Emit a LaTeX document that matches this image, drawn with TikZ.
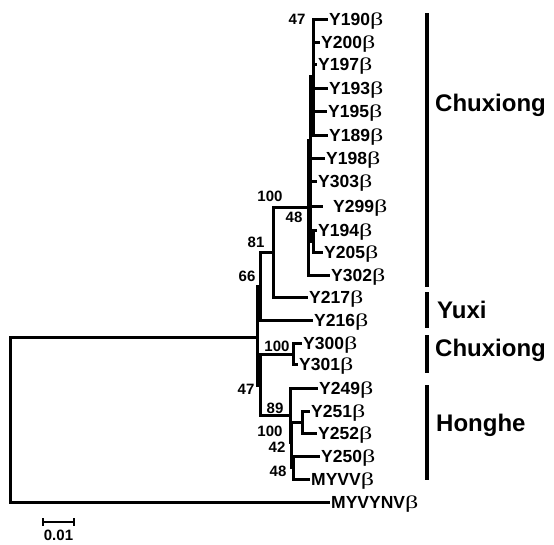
\documentclass[tikz,border=0pt]{standalone}
\usepackage{fontspec}
\usepackage{graphicx}
\setmainfont{Liberation Sans}
\newfontfamily\betafont{Liberation Serif}
\usetikzlibrary{arrows.meta}
\newcommand{\bt}{\scalebox{1.45}[1]{\betafont\mdseries\fontsize{18}{18}\selectfont β}}

\begin{document}
\begin{tikzpicture}[x=1pt, y=-1pt,
    branch/.style={line width=3pt},
    leaf/.style={anchor=west, inner sep=1pt, text height=12.5pt, text depth=0pt, font=\fontsize{17.5}{18}\selectfont\bfseries},
    boot/.style={inner sep=0pt, font=\fontsize{15}{16}\selectfont\bfseries},
    clade/.style={anchor=west, inner sep=0pt, font=\fontsize{24}{26}\selectfont\bfseries},
    cladebar/.style={line width=3.5pt}]
    \useasboundingbox (0,0) rectangle (554,544);

    % leaves
    \node[leaf] (y190) at (328,19) {Y190\bt};
    \node[leaf] (y200) at (320,42) {Y200\bt};
    \node[leaf] (y197) at (317,64) {Y197\bt};
    \node[leaf] (y193) at (328,88) {Y193\bt};
    \node[leaf] (y195) at (327,111) {Y195\bt};
    \node[leaf] (y189) at (328,135) {Y189\bt};
    \node[leaf] (y198) at (325,158) {Y198\bt};
    \node[leaf] (y303) at (317,181) {Y303\bt};
    \node[leaf, inner xsep=10pt] (y299) at (323,206) {Y299\bt};
    \node[leaf] (y194) at (317,230) {Y194\bt};
    \node[leaf] (y205) at (323,252) {Y205\bt};
    \node[leaf] (y302) at (330,275) {Y302\bt};
    \node[leaf] (y217) at (308,297) {Y217\bt};
    \node[leaf] (y216) at (313,320) {Y216\bt};
    \node[leaf] (y300) at (302,343) {Y300\bt};
    \node[leaf] (y301) at (298,364) {Y301\bt};
    \node[leaf] (y249) at (318,388) {Y249\bt};
    \node[leaf] (y251) at (310,411) {Y251\bt};
    \node[leaf] (y252) at (317,433) {Y252\bt};
    \node[leaf] (y250) at (320,456) {Y250\bt};
    \node[leaf] (myvv) at (310,479) {MYVV\bt};
    \node[leaf] (myvynv) at (330,502) {MYVYNV\bt};

    % internal nodes
    \coordinate (cA) at (313,76);
    \coordinate (cD) at (313,241);
    \coordinate (c48) at (310,222);
    \coordinate (cB) at (310,140);
    \coordinate (c100) at (308,207);
    \coordinate (c81) at (273,252);
    \coordinate (c66) at (260,286);
    \coordinate (cY) at (293,354);
    \coordinate (c100b) at (302,422);
    \coordinate (c48b) at (293,467.5);
    \coordinate (c42) at (291.5,442);
    \coordinate (c89) at (290,415);
    \coordinate (c47) at (260,385);
    \coordinate (cIn) at (257,337);
    \coordinate (cRoot) at (10,420);

    \draw[branch] (cA) |- (y190.west) (cA) |- (y200.west) (cA) |- (y197.west)
        (cA) |- (y193.west) (cA) |- (y195.west) (cA) |- (y189.west);
    \draw[branch] (cD) |- (y194.west) (cD) |- (y205.west);
    \draw[branch] (c48) |- (y299.west) (c48) |- (cD);
    \draw[branch] (cB) |- (cA) (cB) |- (y198.west) (cB) |- (y303.west) (cB) |- (c48);
    \draw[branch] (c100) |- (cB) (c100) |- (y302.west);
    \draw[branch] (c81) |- (c100) (c81) |- (y217.west);
    \draw[branch] (c66) |- (c81) (c66) |- (y216.west);
    \draw[branch] (cY) |- (y300.west) (cY) |- (y301.west);
    \draw[branch] (c100b) |- (y251.west) (c100b) |- (y252.west);
    \draw[branch] (c48b) |- (y250.west) (c48b) |- (myvv.west);
    \draw[branch] (c42) |- (c100b) (c42) |- (c48b);
    \draw[branch] (c89) |- (y249.west) (c89) |- (c42);
    \draw[branch] (c47) |- (cY) (c47) |- (c89);
    \draw[branch] (cIn) |- (c66) (cIn) |- (c47);
    \draw[branch] (cRoot) |- (cIn) (cRoot) |- (myvynv.west);

    % bootstrap values
    \node[boot] (b47a) at (297,19) {47};
    \node[boot] (b100a) at (270,196) {100};
    \node[boot] (b48a) at (294,217) {48};
    \node[boot] (b81) at (256,242) {81};
    \node[boot] (b66) at (247,276) {66};
    \node[boot] (b100b) at (277,346) {100};
    \node[boot] (b47b) at (246,389) {47};
    \node[boot] (b89) at (275,408) {89};
    \node[boot] (b100c) at (270,431) {100};
    \node[boot] (b42) at (277,447) {42};
    \node[boot] (b48b) at (278,471) {48};

    % clades
    \draw[cladebar] (427,13) -- (427,287);
    \node[clade] (chux1) at (435,105) {Chuxiong};
    \draw[cladebar] (427,292) -- (427,328);
    \node[clade] (yuxi) at (437,310) {Yuxi};
    \draw[cladebar] (427,335) -- (427,373);
    \node[clade] (chux2) at (435,350) {Chuxiong};
    \draw[cladebar] (427,385) -- (427,480);
    \node[clade] (honghe) at (436,425) {Honghe};

    % scale
    \coordinate (s0) at (42,522);
    \coordinate (s1) at (75,522);
    \draw[line width=2.4pt, {Bar[width=8pt]}-{Bar[width=8pt]}] (s0) -- (s1);
    \node[boot, font=\fontsize{15}{16}\selectfont\bfseries] (scale) at (58.5,535) {0.01};
\end{tikzpicture}
\end{document}
